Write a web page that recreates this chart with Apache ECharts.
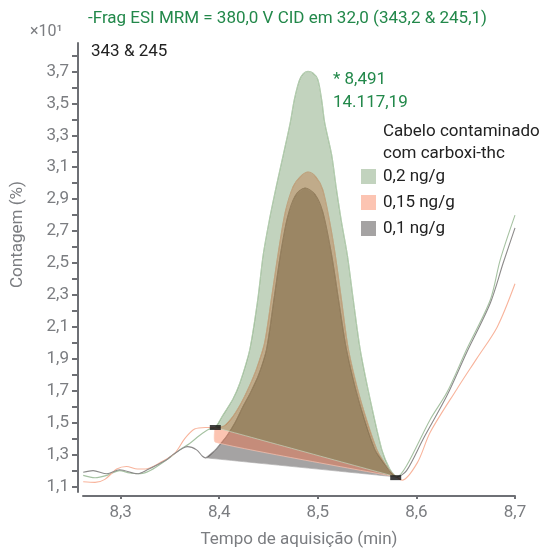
<!DOCTYPE html>
<html>
<head>
<meta charset="utf-8">
<script src="https://cdn.jsdelivr.net/npm/echarts@6/dist/echarts.min.js"></script>
<style>
  html, body { margin: 0; padding: 0; background: #fff; }
  #main { width: 554px; height: 553px; }
</style>
</head>
<body>
<div id="main"></div>
<script>
var greenX = [8.262, 8.274, 8.286, 8.299, 8.309, 8.320, 8.330, 8.345, 8.360, 8.370, 8.380, 8.390, 8.396,
  8.403, 8.414, 8.421, 8.431, 8.439, 8.4445, 8.4505, 8.4575, 8.465, 8.472, 8.476, 8.481, 8.485, 8.490,
  8.495, 8.500, 8.504, 8.507, 8.514, 8.519, 8.524, 8.530, 8.536, 8.543, 8.553, 8.565, 8.573, 8.580,
  8.590, 8.614, 8.631, 8.651, 8.675, 8.685, 8.700];
var greenY = [1.17, 1.155, 1.17, 1.20, 1.185, 1.18, 1.20, 1.26, 1.33, 1.37, 1.42, 1.46, 1.47,
  1.54, 1.65, 1.75, 1.96, 2.27, 2.55, 2.76, 2.97, 3.18, 3.38, 3.52, 3.64, 3.685, 3.70,
  3.69, 3.65, 3.52, 3.38, 3.18, 2.96, 2.76, 2.55, 2.27, 1.96, 1.65, 1.33, 1.21, 1.16,
  1.23, 1.52, 1.69, 1.96, 2.27, 2.52, 2.80];

var salmonX = [8.262, 8.274, 8.284, 8.296, 8.306, 8.317, 8.325, 8.340, 8.355, 8.365, 8.375, 8.386, 8.396,
  8.405, 8.414, 8.422, 8.430, 8.438, 8.446, 8.453, 8.460, 8.467, 8.475, 8.482, 8.490,
  8.498, 8.505, 8.512, 8.517, 8.524, 8.531, 8.543, 8.560, 8.573, 8.580,
  8.5855, 8.601, 8.614, 8.641, 8.661, 8.682, 8.700];
var salmonY = [1.13, 1.126, 1.145, 1.21, 1.226, 1.21, 1.21, 1.25, 1.31, 1.40, 1.46, 1.47, 1.47,
  1.48, 1.54, 1.62, 1.72, 1.84, 2.00, 2.28, 2.57, 2.82, 2.98, 3.04, 3.07,
  3.04, 2.96, 2.76, 2.58, 2.27, 1.96, 1.65, 1.33, 1.20, 1.16,
  1.14, 1.25, 1.44, 1.71, 1.90, 2.10, 2.37];

var grayX = [8.262, 8.272, 8.286, 8.299, 8.317, 8.327, 8.347, 8.353, 8.368, 8.377, 8.383, 8.386,
  8.396, 8.403, 8.408, 8.416, 8.424, 8.431, 8.440, 8.448, 8.455, 8.462, 8.469, 8.477, 8.487,
  8.497, 8.505, 8.514, 8.521, 8.529, 8.541, 8.558, 8.573, 8.580,
  8.590, 8.607, 8.631, 8.651, 8.675, 8.688, 8.700];
var grayY = [1.19, 1.20, 1.18, 1.205, 1.18, 1.205, 1.27, 1.30, 1.35, 1.33, 1.29, 1.28,
  1.33, 1.38, 1.42, 1.50, 1.60, 1.68, 1.80, 1.96, 2.25, 2.55, 2.78, 2.92, 2.97,
  2.93, 2.82, 2.55, 2.27, 1.96, 1.65, 1.33, 1.20, 1.16,
  1.20, 1.40, 1.67, 1.94, 2.25, 2.50, 2.72];

// linha de base da integração: [início], [fim]
var greenBase = [[8.396, 1.47], [8.580, 1.16]];
var salmonBase = [[8.396, 1.378], [8.580, 1.16]];
var grayBase = [[8.386, 1.28], [8.580, 1.16]];
var markerPts = [[8.396, 1.47], [8.579, 1.156]];

var seriesNames = ['0,2 ng/g', '0,15 ng/g', '0,1 ng/g'];
var yTicks = [1.1, 1.2, 1.3, 1.4, 1.5, 1.6, 1.7, 1.8, 1.9, 2.0, 2.1, 2.2, 2.3, 2.4, 2.5, 2.6, 2.7, 2.8, 2.9, 3.0,
  3.1, 3.2, 3.3, 3.4, 3.5, 3.6, 3.7, 3.8];
var yLabels = [1.1, 1.3, 1.5, 1.7, 1.9, 2.1, 2.3, 2.5, 2.7, 2.9, 3.1, 3.3, 3.5, 3.7];
var xLabels = [8.3, 8.4, 8.5, 8.6, 8.7];

function pairs(xs, ys) {
  return xs.map(function (x, i) { return [x, ys[i]]; });
}

// área do pico entre a curva e a linha de base
function peakSeries(name, xs, ys, base, color, edge, z) {
  return {
    name: name,
    type: 'custom',
    z: z,
    itemStyle: { color: color },
    data: [0],
    renderItem: function (params, api) {
      var pts = [];
      for (var i = 0; i < xs.length; i++) {
        if (xs[i] >= base[0][0] && xs[i] <= base[1][0]) pts.push(api.coord([xs[i], ys[i]]));
      }
      pts.push(api.coord(base[1]));
      pts.push(api.coord(base[0]));
      return {
        type: 'polygon',
        shape: { points: pts, smooth: 0.15 },
        style: { fill: color, stroke: edge, lineWidth: 0.8 }
      };
    }
  };
}

function traceSeries(name, xs, ys, color) {
  return {
    name: name,
    type: 'line',
    data: pairs(xs, ys),
    showSymbol: false,
    smooth: 0.3,
    z: 1,
    lineStyle: { color: color, width: 1.1 }
  };
}

var comma = function (v) { return String(v).replace('.', ','); };
var grayTxt = '#7b7d81';
var axisCol = '#6e7075';

var myChart = echarts.init(document.getElementById('main'));
var option = {
  animation: false,
  textStyle: { fontFamily: 'Roboto' },
  grid: { left: 83, right: 39, top: 43, bottom: 60 },
  xAxis: {
    type: 'value',
    min: 8.2618,
    max: 8.7,
    offset: 4,
    name: 'Tempo de aquisição (min)',
    nameLocation: 'middle',
    nameGap: 35,
    nameTextStyle: { color: grayTxt, fontSize: 17 },
    axisLine: { lineStyle: { color: axisCol, width: 2 } },
    axisTick: { customValues: xLabels, length: 3, lineStyle: { color: axisCol, width: 2 } },
    axisLabel: { customValues: xLabels, color: grayTxt, fontSize: 17, margin: 8, formatter: comma },
    splitLine: { show: false }
  },
  yAxis: {
    type: 'value',
    min: 1.066,
    max: 3.878,
    offset: 5,
    axisLine: { show: true, lineStyle: { color: axisCol, width: 2 } },
    axisTick: { show: true, customValues: yTicks, length: 6, lineStyle: { color: axisCol, width: 2 } },
    axisLabel: { customValues: yLabels, color: grayTxt, fontSize: 17, margin: 9, formatter: comma },
    splitLine: { show: false }
  },
  legend: {
    data: seriesNames,
    orient: 'vertical',
    left: 361,
    top: 168,
    padding: 0,
    itemWidth: 15,
    itemHeight: 15,
    itemGap: 9,
    icon: 'rect',
    selectedMode: false,
    textStyle: { color: '#222', fontSize: 17, padding: [0, 0, 0, 2] }
  },
  graphic: [
    { type: 'text', left: 88, top: 10, style: { text: '-Frag ESI MRM = 380,0 V CID em 32,0 (343,2 & 245,1)', fill: '#22884a', font: '17px Roboto' } },
    { type: 'text', left: 30, top: 24, style: { text: '×10¹', fill: grayTxt, font: '16px Roboto' } },
    { type: 'text', left: 91, top: 43, style: { text: '343 & 245', fill: '#222', font: '17px Roboto' } },
    { type: 'text', left: 333, top: 68, style: { text: '* 8,491\n14.117,19', fill: '#22884a', font: '17px Roboto', lineHeight: 23 } },
    { type: 'text', left: 383, top: 121, style: { text: 'Cabelo contaminado\ncom carboxi-thc', fill: '#222', font: '17px Roboto', lineHeight: 22 } },
    { type: 'text', x: 9, y: 288, rotation: Math.PI / 2, style: { text: 'Contagem (%)', fill: grayTxt, font: '17px Roboto' } }
  ],
  series: [
    traceSeries('t1', greenX, greenY, '#a6c2a2'),
    traceSeries('t2', salmonX, salmonY, '#f8b49c'),
    traceSeries('t3', grayX, grayY, '#8c8a8a'),
    peakSeries(seriesNames[0], greenX, greenY, greenBase, 'rgba(70,122,58,0.33)', 'rgba(200,220,196,0.8)', 4),
    peakSeries(seriesNames[1], salmonX, salmonY, salmonBase, 'rgba(247,107,62,0.4)', 'rgba(252,200,182,0.8)', 3),
    peakSeries(seriesNames[2], grayX, grayY, grayBase, 'rgba(75,71,71,0.5)', 'rgba(170,168,168,0.8)', 2),
    {
      name: 'marcador',
      type: 'scatter',
      data: markerPts,
      symbol: 'rect',
      symbolSize: [11, 5],
      itemStyle: { color: '#111' },
      z: 10
    }
  ]
};
myChart.setOption(option);
</script>
</body>
</html>
